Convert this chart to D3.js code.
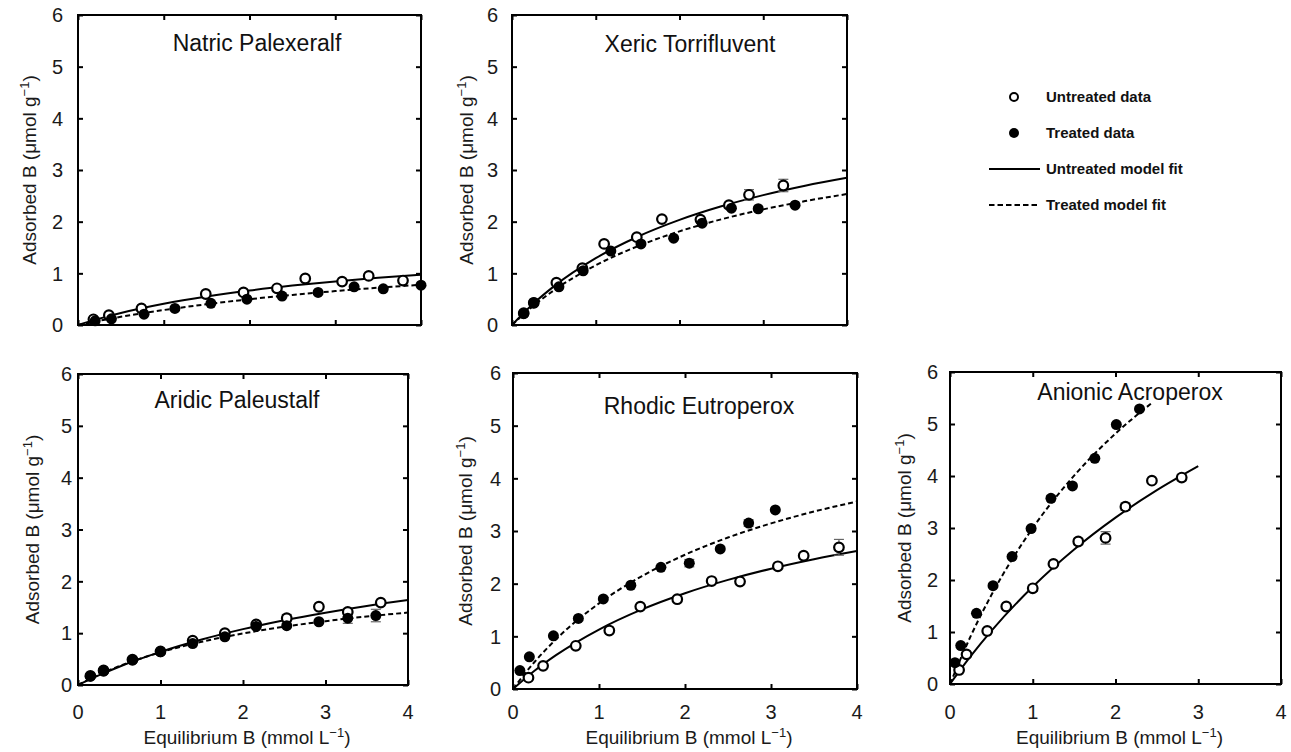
<!DOCTYPE html>
<html>
<head>
<meta charset="utf-8">
<script src="https://cdn.jsdelivr.net/npm/d3@7"></script>
<style>
  html, body { margin: 0; padding: 0; background: #fff; }
  svg { display: block; font-family: "Liberation Sans", Arial, sans-serif; }
</style>
</head>
<body>
<svg id="chart" width="1291" height="752"></svg>
<script>
// ---------------- data ----------------
const xTicks = [0, 1, 2, 3, 4];
const yTicks = [0, 1, 2, 3, 4, 5, 6];
const xTickLabels = ["0", "1", "2", "3", "4"];
const yTickLabels = ["0", "1", "2", "3", "4", "5", "6"];

const titles = ["Natric Palexeralf", "Xeric Torrifluvent", "Aridic Paleustalf", "Rhodic Eutroperox", "Anionic Acroperox"];
const legendLabels = ["Untreated data", "Treated data", "Untreated model fit", "Treated model fit"];

// Natric Palexeralf
const natricUntreated = [[0.18,0.11],[0.36,0.19],[0.74,0.32],[1.49,0.60],[1.93,0.63],[2.32,0.71],[2.65,0.90],[3.08,0.84],[3.39,0.95],[3.79,0.86]];
const natricTreated = [[0.20,0.08],[0.39,0.12],[0.77,0.21],[1.13,0.32],[1.55,0.42],[1.97,0.50],[2.38,0.56],[2.80,0.63],[3.22,0.74],[3.56,0.70],[4.00,0.77]];
const natricUntreatedFit = [[0,0],[0.25,0.124],[0.5,0.232],[1,0.41],[1.5,0.551],[2,0.667],[2.5,0.763],[3,0.844],[3.5,0.913],[4,0.973]];
const natricTreatedFit = [[0,0],[0.25,0.083],[0.5,0.158],[1,0.29],[1.5,0.402],[2,0.499],[2.5,0.582],[3,0.656],[3.5,0.721],[4,0.779]];

// Xeric Torrifluvent
const xericUntreated = [[0.14,0.23],[0.26,0.43],[0.53,0.82],[0.84,1.10],[1.10,1.57],[1.49,1.70],[1.79,2.05],[2.25,2.04],[2.59,2.32],[2.83,2.52],[3.24,2.70]];
const xericTreated = [[0.14,0.22],[0.26,0.43],[0.56,0.74],[0.85,1.05],[1.18,1.43],[1.54,1.57],[1.93,1.68],[2.27,1.97],[2.62,2.26],[2.94,2.25],[3.38,2.32]];
const xericUntreatedErr = [[2.83,2.52,0.10],[3.24,2.70,0.12]];
const xericUntreatedFit = [[0,0],[0.25,0.406],[0.5,0.748],[1,1.293],[1.5,1.708],[2,2.034],[2.5,2.297],[3,2.514],[3.5,2.696],[4,2.85]];
const xericTreatedFit = [[0,0],[0.25,0.364],[0.5,0.670],[1,1.156],[1.5,1.524],[2,1.813],[2.5,2.046],[3,2.238],[3.5,2.398],[4,2.535]];

// Aridic Paleustalf
const aridicUntreated = [[0.15,0.175],[0.31,0.28],[0.66,0.49],[1.00,0.65],[1.39,0.855],[1.78,1.00],[2.16,1.17],[2.53,1.29],[2.92,1.51],[3.27,1.41],[3.67,1.59]];
const aridicTreated = [[0.15,0.17],[0.31,0.27],[0.66,0.48],[1.00,0.64],[1.39,0.80],[1.78,0.93],[2.16,1.13],[2.53,1.145],[2.92,1.22],[3.27,1.29],[3.61,1.34]];
const aridicUntreatedErr = [[2.53,1.29,0.07],[3.27,1.41,0.05]];
const aridicTreatedErr = [[3.27,1.29,0.10],[3.61,1.34,0.12]];
const aridicUntreatedFit = [[0,0],[0.25,0.186],[0.5,0.353],[1,0.64],[1.5,0.878],[2,1.078],[2.5,1.249],[3,1.396],[3.5,1.525],[4,1.638]];
const aridicTreatedFit = [[0,0],[0.25,0.197],[0.5,0.364],[1,0.63],[1.5,0.834],[2,0.994],[2.5,1.124],[3,1.232],[3.5,1.322],[4,1.398]];

// Rhodic Eutroperox
const rhodicUntreated = [[0.18,0.215],[0.35,0.44],[0.73,0.82],[1.12,1.11],[1.48,1.565],[1.91,1.705],[2.31,2.05],[2.64,2.04],[3.08,2.33],[3.38,2.53],[3.79,2.69]];
const rhodicTreated = [[0.08,0.35],[0.19,0.61],[0.47,1.01],[0.76,1.34],[1.05,1.71],[1.37,1.97],[1.72,2.31],[2.05,2.39],[2.41,2.66],[2.74,3.15],[3.05,3.40]];
const rhodicUntreatedErr = [[3.79,2.69,0.15]];
const rhodicTreatedErr = [[2.05,2.39,0.07],[2.74,3.15,0.06]];
const rhodicUntreatedFit = [[0,0],[0.25,0.345],[0.5,0.642],[1,1.129],[1.5,1.511],[2,1.819],[2.5,2.072],[3,2.285],[3.5,2.465],[4,2.62]];
const rhodicTreatedFit = [[0,0],[0.25,0.513],[0.5,0.944],[1,1.626],[1.5,2.144],[2,2.549],[2.5,2.876],[3,3.144],[3.5,3.369],[4,3.56]];

// Anionic Acroperox
const anionicUntreated = [[0.11,0.27],[0.20,0.57],[0.45,1.02],[0.68,1.49],[1.00,1.84],[1.25,2.31],[1.55,2.74],[1.88,2.81],[2.12,3.41],[2.44,3.91],[2.80,3.97]];
const anionicTreated = [[0.06,0.41],[0.13,0.74],[0.32,1.36],[0.52,1.89],[0.75,2.45],[0.98,2.99],[1.22,3.57],[1.48,3.81],[1.75,4.34],[2.01,4.99],[2.29,5.29]];
const anionicUntreatedErr = [[1.00,1.84,0.06],[1.55,2.74,0.06],[1.88,2.81,0.12],[2.12,3.41,0.07],[2.80,3.97,0.06]];
const anionicTreatedErr = [[1.22,3.57,0.05]];
const anionicUntreatedFit = [[0,0],[0.25,0.536],[0.5,1.022],[1,1.87],[1.5,2.587],[2,3.199],[2.5,3.728],[3,4.19]];
const anionicTreatedFit = [[0,0],[0.25,0.92],[0.5,1.71],[1,3.0],[1.5,4.007],[2,4.816],[2.45,5.418]];

// ---------------- layout ----------------
const panels = [
  {title: titles[0], x0: 78,  x1: 421,  y0: 15,  y1: 325, tx: 257,  ty: 51,  tickGap: 15, ylx: 36,  xLabels: false,
   u: natricUntreated, t: natricTreated, uErr: [], tErr: [], uFit: natricUntreatedFit, tFit: natricTreatedFit},
  {title: titles[1], x0: 512, x1: 847,  y0: 15,  y1: 325, tx: 690,  ty: 52,  tickGap: 14, ylx: 473, xLabels: false,
   u: xericUntreated, t: xericTreated, uErr: xericUntreatedErr, tErr: [], uFit: xericUntreatedFit, tFit: xericTreatedFit},
  {title: titles[2], x0: 78,  x1: 408,  y0: 374, y1: 685, tx: 237,  ty: 408, tickGap: 6,  ylx: 39,  xLabels: true,
   u: aridicUntreated, t: aridicTreated, uErr: aridicUntreatedErr, tErr: aridicTreatedErr, uFit: aridicUntreatedFit, tFit: aridicTreatedFit},
  {title: titles[3], x0: 513, x1: 857,  y0: 373, y1: 689, tx: 699,  ty: 414, tickGap: 12, ylx: 472, xLabels: true,
   u: rhodicUntreated, t: rhodicTreated, uErr: rhodicUntreatedErr, tErr: rhodicTreatedErr, uFit: rhodicUntreatedFit, tFit: rhodicTreatedFit},
  {title: titles[4], x0: 950, x1: 1281, y0: 372, y1: 684, tx: 1130, ty: 400, tickGap: 12, ylx: 911, xLabels: true,
   u: anionicUntreated, t: anionicTreated, uErr: anionicUntreatedErr, tErr: anionicTreatedErr, uFit: anionicUntreatedFit, tFit: anionicTreatedFit}
];

const svg = d3.select("#chart");
const TICK = 5;

function addSupLabel(sel, main, tail) {
  sel.append("tspan").text(main);
  sel.append("tspan").attr("font-size", 13).attr("dy", -7).text("\u22121");
  sel.append("tspan").attr("dy", 7).text(tail);
}

panels.forEach(p => {
  const x = d3.scaleLinear().domain([0, 4]).range([p.x0, p.x1]);
  const y = d3.scaleLinear().domain([0, 6]).range([p.y1, p.y0]);
  const g = svg.append("g");

  // inward ticks on all four sides via d3 axes
  g.append("g").attr("transform", `translate(0,${p.y1})`)
    .call(d3.axisTop(x).tickValues(xTicks).tickSize(TICK).tickFormat(""))
    .call(s => s.select(".domain").remove());
  g.append("g").attr("transform", `translate(0,${p.y0})`)
    .call(d3.axisBottom(x).tickValues(xTicks).tickSize(TICK).tickFormat(""))
    .call(s => s.select(".domain").remove());
  g.append("g").attr("transform", `translate(${p.x0},0)`)
    .call(d3.axisRight(y).tickValues(yTicks).tickSize(TICK).tickFormat(""))
    .call(s => s.select(".domain").remove());
  g.append("g").attr("transform", `translate(${p.x1},0)`)
    .call(d3.axisLeft(y).tickValues(yTicks).tickSize(TICK).tickFormat(""))
    .call(s => s.select(".domain").remove());
  g.selectAll(".tick line").attr("stroke", "#000").attr("stroke-width", 2);

  // frame
  g.append("rect").attr("x", p.x0).attr("y", p.y0)
    .attr("width", p.x1 - p.x0).attr("height", p.y1 - p.y0)
    .attr("fill", "none").attr("stroke", "#000").attr("stroke-width", 2);

  // y tick labels
  g.selectAll(".ylab").data(yTicks).join("text")
    .attr("x", p.x0 - p.tickGap).attr("y", d => y(d)).attr("dy", "0.36em")
    .attr("text-anchor", "end").attr("font-size", 20).attr("fill", "#1a1a1a")
    .text((d, i) => yTickLabels[i]);

  // x tick labels
  if (p.xLabels) {
    g.selectAll(".xlab").data(xTicks).join("text")
      .attr("x", d => x(d)).attr("y", 719)
      .attr("text-anchor", "middle").attr("font-size", 20).attr("fill", "#1a1a1a")
      .text((d, i) => xTickLabels[i]);
    const xl = g.append("text").attr("x", (p.x0 + p.x1) / 2 + 4).attr("y", 744)
      .attr("text-anchor", "middle").attr("font-size", 19).attr("fill", "#1a1a1a");
    addSupLabel(xl, "Equilibrium B (mmol L", ")");
  }

  // y axis title
  const yl = g.append("text")
    .attr("transform", `translate(${p.ylx},${(p.y0 + p.y1) / 2}) rotate(-90)`)
    .attr("text-anchor", "middle").attr("font-size", 19).attr("fill", "#1a1a1a");
  addSupLabel(yl, "Adsorbed B (\u03bcmol g", ")");

  // panel title
  g.append("text").attr("x", p.tx).attr("y", p.ty).attr("text-anchor", "middle")
    .attr("font-size", 23).attr("fill", "#111").text(p.title);

  // fit curves
  const line = d3.line().x(d => x(d[0])).y(d => y(d[1])).curve(d3.curveMonotoneX);
  g.append("path").datum(p.uFit).attr("d", line)
    .attr("fill", "none").attr("stroke", "#000").attr("stroke-width", 2);
  g.append("path").datum(p.tFit).attr("d", line)
    .attr("fill", "none").attr("stroke", "#000").attr("stroke-width", 2)
    .attr("stroke-dasharray", "5,3");

  // error bars
  const errs = p.uErr.concat(p.tErr);
  const eb = g.append("g").attr("stroke", "#666").attr("stroke-width", 1.2);
  errs.forEach(e => {
    const cx = x(e[0]), yt = y(e[1] + e[2]), yb = y(e[1] - e[2]);
    eb.append("line").attr("x1", cx).attr("x2", cx).attr("y1", yt).attr("y2", yb);
    eb.append("line").attr("x1", cx - 5).attr("x2", cx + 5).attr("y1", yt).attr("y2", yt);
    eb.append("line").attr("x1", cx - 5).attr("x2", cx + 5).attr("y1", yb).attr("y2", yb);
  });

  // markers: untreated (open) then treated (filled) on top
  g.selectAll(".un").data(p.u).join("circle")
    .attr("cx", d => x(d[0])).attr("cy", d => y(d[1])).attr("r", 4.8)
    .attr("fill", "#fff").attr("stroke", "#000").attr("stroke-width", 2.2);
  g.selectAll(".tr").data(p.t).join("circle")
    .attr("cx", d => x(d[0])).attr("cy", d => y(d[1])).attr("r", 5.5)
    .attr("fill", "#000");
});

// ---------------- legend ----------------
const lg = svg.append("g");
const legY = [97, 133, 169, 205];
lg.append("circle").attr("cx", 1014).attr("cy", legY[0]).attr("r", 4)
  .attr("fill", "#fff").attr("stroke", "#000").attr("stroke-width", 2);
lg.append("circle").attr("cx", 1014).attr("cy", legY[1]).attr("r", 5).attr("fill", "#000");
lg.append("line").attr("x1", 989).attr("x2", 1040).attr("y1", legY[2]).attr("y2", legY[2])
  .attr("stroke", "#000").attr("stroke-width", 2);
lg.append("line").attr("x1", 989).attr("x2", 1040).attr("y1", legY[3]).attr("y2", legY[3])
  .attr("stroke", "#000").attr("stroke-width", 2).attr("stroke-dasharray", "5.5,3");
lg.selectAll(".lt").data(legendLabels).join("text")
  .attr("x", 1046).attr("y", (d, i) => legY[i]).attr("dy", "0.36em")
  .attr("font-size", 15).attr("font-weight", "bold").attr("fill", "#111")
  .text(d => d);
</script>
</body>
</html>
